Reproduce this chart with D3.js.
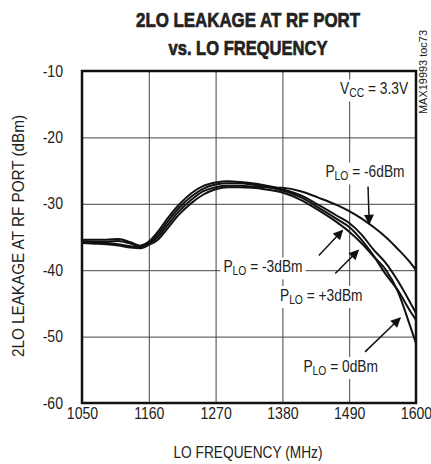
<!DOCTYPE html>
<html>
<head>
<meta charset="utf-8">
<script src="https://cdn.jsdelivr.net/npm/d3@7"></script>
<style>
  body { margin: 0; background: #fff; }
  text { font-family: "Liberation Sans", Arial, sans-serif; fill: #222; }
</style>
</head>
<body>
<svg id="chart" width="431" height="464"></svg>
<script>
// LO frequency (MHz) sample points
const freqs = [1050, 1070, 1090, 1110, 1130, 1145, 1160, 1175, 1190, 1210, 1230, 1250, 1270, 1290,
               1310, 1330, 1350, 1380, 1410, 1440, 1470, 1490, 1510, 1530, 1550, 1570, 1590, 1600];

// 2LO leakage (dBm) for each LO drive level
const leakM6 = [-35.7, -35.8, -35.9, -36.1, -36.4, -36.6, -36.0, -35.0, -33.3, -31.1, -29.4, -28.1, -27.5, -27.3,
                -27.3, -27.4, -27.5, -27.6, -28.1, -29.1, -30.2, -31.1, -32.2, -33.5, -35.0, -36.8, -38.8, -40.0];
const leakM3 = [-35.4, -35.4, -35.4, -35.3, -35.8, -36.3, -35.7, -34.2, -32.3, -30.1, -28.4, -27.3, -26.8, -26.6,
                -26.7, -26.9, -27.2, -27.8, -28.7, -30.2, -31.8, -32.9, -34.6, -36.9, -38.9, -41.6, -44.8, -46.5];
const leakP3 = [-35.6, -35.7, -35.7, -35.6, -36.0, -36.4, -35.8, -34.6, -32.8, -30.6, -28.9, -27.7, -27.1, -26.9,
                -26.9, -27.1, -27.4, -28.0, -29.0, -30.6, -32.3, -33.5, -35.4, -37.8, -40.6, -43.0, -46.1, -47.5];
const leak0 = [-35.9, -36.0, -36.1, -36.3, -36.6, -36.7, -36.2, -35.4, -33.8, -31.6, -29.9, -28.6, -27.8, -27.5,
               -27.5, -27.6, -27.8, -28.3, -29.4, -31.0, -32.8, -34.2, -35.9, -37.9, -39.9, -43.2, -48.3, -51.0];

const xTicks = [1050, 1160, 1270, 1380, 1490, 1600];
const yTicks = [-10, -20, -30, -40, -50, -60];

const series = [leakM6, leakM3, leakP3, leak0];

// callouts: label anchor and arrow (tail -> tip) in data units
const callouts = [
    { text: " = -6dBm", cx: 1516, cy: -25.4, from: [1521, -27.4], to: [1523, -33.0] },
    { text: " = -3dBm", cx: 1348, cy: -39.7, from: [1440, -37.8], to: [1479, -34.0] },
    { text: " = +3dBm", cx: 1444, cy: -44.0, from: [1467, -40.5], to: [1505, -37.0] },
    { text: " = 0dBm",  cx: 1476, cy: -54.7, from: [1516, -52.3], to: [1574, -47.2] }
];

const size = { width: 431, height: 464, left: 82, right: 416, top: 71, bottom: 403 };
const svg = d3.select("#chart");

const x = d3.scaleLinear().domain([1050, 1600]).range([size.left, size.right]);
const y = d3.scaleLinear().domain([-60, -10]).range([size.bottom, size.top]);

const plotW = size.right - size.left;
const plotH = size.bottom - size.top;

// squeeze text horizontally to mimic the condensed face of the original
function condense(sel, k) {
    sel.each(function() {
        const w = this.getComputedTextLength();
        d3.select(this).attr("textLength", w * k).attr("lengthAdjust", "spacingAndGlyphs");
    });
}

// arrow head
svg.append("defs").append("marker")
    .attr("id", "head")
    .attr("viewBox", "0 0 10 10")
    .attr("refX", 9).attr("refY", 5)
    .attr("markerUnits", "userSpaceOnUse")
    .attr("markerWidth", 13).attr("markerHeight", 10)
    .attr("orient", "auto")
    .append("path")
    .attr("d", "M0,0 L10,5 L0,10 Z")
    .attr("fill", "#111");

// grid + tick labels
const gx = svg.append("g")
    .attr("transform", `translate(0,${size.bottom})`)
    .call(d3.axisBottom(x).tickValues(xTicks).tickFormat(d => String(d)).tickSize(-plotH).tickPadding(5));
const gy = svg.append("g")
    .attr("transform", `translate(${size.left},0)`)
    .call(d3.axisLeft(y).tickValues(yTicks).tickFormat(d => String(d)).tickSize(-plotW).tickPadding(19));

[gx, gy].forEach(g => {
    g.select(".domain").remove();
    g.selectAll("line").attr("stroke", "#444").attr("stroke-width", 1);
    g.selectAll("text").attr("font-size", 16).attr("fill", "#222")
        .style("font-family", '"Liberation Sans", Arial, sans-serif');
    condense(g.selectAll("text"), 0.88);
});

// labels layer (white boxes are drawn underneath the curves)
const bgLayer = svg.append("g");
const curveLayer = svg.append("g");
const labelLayer = svg.append("g");

function subLabel(parent, main, sub, rest, px, py, anchor) {
    const t = parent.append("text")
        .attr("x", px).attr("y", py)
        .attr("text-anchor", anchor)
        .attr("dominant-baseline", "middle")
        .attr("font-size", 16);
    t.append("tspan").text(main);
    t.append("tspan").attr("font-size", 12).attr("dy", 4).text(sub);
    t.append("tspan").attr("dy", -4).text(rest);
    condense(t, 0.86);
    const b = t.node().getBBox();
    bgLayer.append("rect")
        .attr("x", b.x - 3).attr("y", b.y - 1)
        .attr("width", b.width + 6).attr("height", b.height + 2)
        .attr("fill", "#fff");
    return t;
}

const line = d3.line()
    .x((d, i) => x(freqs[i]))
    .y(d => y(d))
    .curve(d3.curveMonotoneX);

curveLayer.selectAll("path")
    .data(series)
    .join("path")
    .attr("d", line)
    .attr("fill", "none")
    .attr("stroke", "#111")
    .attr("stroke-width", 2);

callouts.forEach(c => {
    subLabel(labelLayer, "P", "LO", c.text, x(c.cx), y(c.cy), "middle");
    labelLayer.append("line")
        .attr("x1", x(c.from[0])).attr("y1", y(c.from[1]))
        .attr("x2", x(c.to[0])).attr("y2", y(c.to[1]))
        .attr("stroke", "#111")
        .attr("stroke-width", 1.5)
        .attr("marker-end", "url(#head)");
});

subLabel(labelLayer, "V", "CC", " = 3.3V", x(1587), y(-12.9), "end");

// plot frame
svg.append("rect")
    .attr("x", size.left).attr("y", size.top)
    .attr("width", plotW).attr("height", plotH)
    .attr("fill", "none")
    .attr("stroke", "#111")
    .attr("stroke-width", 2.5);

// titles
svg.append("text")
    .attr("x", 248).attr("y", 27)
    .attr("text-anchor", "middle")
    .attr("font-size", 21).attr("font-weight", "bold")
    .attr("stroke", "#222").attr("stroke-width", 0.7)
    .attr("textLength", 224).attr("lengthAdjust", "spacingAndGlyphs")
    .text("2LO LEAKAGE AT RF PORT");
svg.append("text")
    .attr("x", 248).attr("y", 55)
    .attr("text-anchor", "middle")
    .attr("font-size", 21).attr("font-weight", "bold")
    .attr("stroke", "#222").attr("stroke-width", 0.7)
    .attr("textLength", 159).attr("lengthAdjust", "spacingAndGlyphs")
    .text("vs. LO FREQUENCY");

svg.append("text")
    .attr("x", 248).attr("y", 458)
    .attr("text-anchor", "middle")
    .attr("font-size", 16)
    .attr("textLength", 149).attr("lengthAdjust", "spacingAndGlyphs")
    .text("LO FREQUENCY (MHz)");

svg.append("text")
    .attr("transform", "rotate(-90)")
    .attr("x", -236).attr("y", 24)
    .attr("text-anchor", "middle")
    .attr("font-size", 16)
    .attr("textLength", 242).attr("lengthAdjust", "spacingAndGlyphs")
    .text("2LO LEAKAGE AT RF PORT (dBm)");

svg.append("text")
    .attr("transform", "rotate(-90)")
    .attr("x", -72).attr("y", 427)
    .attr("text-anchor", "middle")
    .attr("font-size", 10)
    .attr("textLength", 84).attr("lengthAdjust", "spacingAndGlyphs")
    .text("MAX19993 toc73");
</script>
</body>
</html>
